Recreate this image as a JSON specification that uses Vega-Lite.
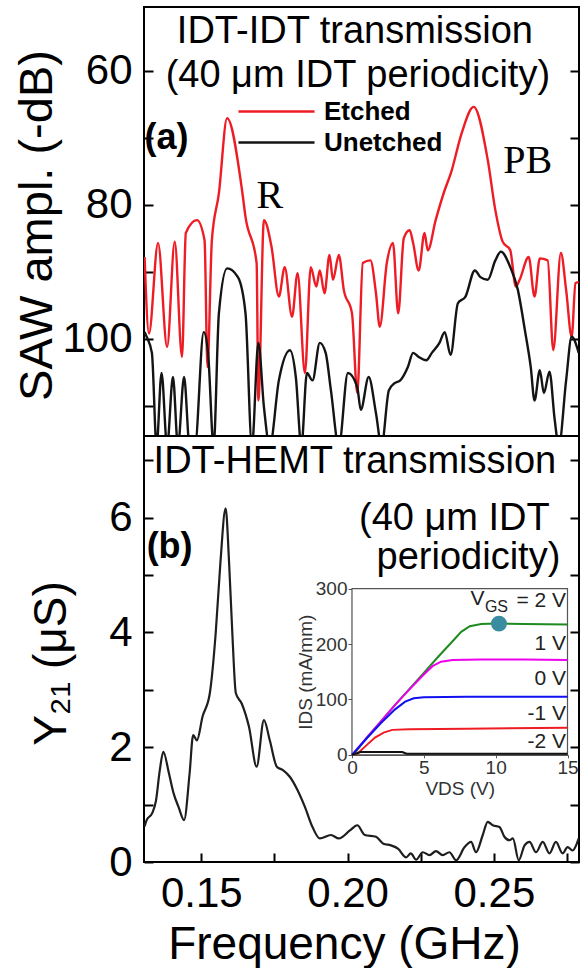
{
  "$schema": "https://vega.github.io/schema/vega-lite/v6.json",
  "background": "white",
  "padding": {"left": 12, "top": 6, "right": 0, "bottom": 0},
  "config": {
    "font": "Liberation Sans",
    "view": {"stroke": "black", "strokeWidth": 2},
    "axis": {"grid": false, "domainColor": "black", "tickColor": "black", "labelColor": "black", "titleColor": "black", "titleFontWeight": "normal", "tickWidth": 2, "labelFont": "Liberation Sans", "titleFont": "Liberation Sans"}
  },
  "datasets": {
    "saw": [
      {"series":"Etched","f":0.1306,"db":87.8},{"series":"Etched","f":0.1321,"db":99.2},{"series":"Etched","f":0.1352,"db":85.7},{"series":"Etched","f":0.1383,"db":101.2},{"series":"Etched","f":0.1409,"db":85.5},{"series":"Etched","f":0.1434,"db":102.7},{"series":"Etched","f":0.1447,"db":84.2},{"series":"Etched","f":0.1485,"db":82.3},{"series":"Etched","f":0.1511,"db":85.3},{"series":"Etched","f":0.1521,"db":104.2},{"series":"Etched","f":0.1536,"db":85.3},{"series":"Etched","f":0.1560,"db":78.3},{"series":"Etched","f":0.1588,"db":67.1},{"series":"Etched","f":0.1639,"db":77.8},{"series":"Etched","f":0.1651,"db":81.8},{"series":"Etched","f":0.1689,"db":88.7},{"series":"Etched","f":0.1695,"db":109.2},{"series":"Etched","f":0.1714,"db":82.3},{"series":"Etched","f":0.1740,"db":86.3},{"series":"Etched","f":0.1765,"db":93.7},{"series":"Etched","f":0.1785,"db":89.3},{"series":"Etched","f":0.1810,"db":96.7},{"series":"Etched","f":0.1829,"db":90.2},{"series":"Etched","f":0.1854,"db":105.1},{"series":"Etched","f":0.1874,"db":89.3},{"series":"Etched","f":0.1893,"db":92.2},{"series":"Etched","f":0.1905,"db":89.8},{"series":"Etched","f":0.1921,"db":93.2},{"series":"Etched","f":0.1938,"db":87.5},{"series":"Etched","f":0.1950,"db":91.2},{"series":"Etched","f":0.1970,"db":87.5},{"series":"Etched","f":0.1987,"db":92.7},{"series":"Etched","f":0.2015,"db":96.2},{"series":"Etched","f":0.2033,"db":108.1},{"series":"Etched","f":0.2052,"db":88.7},{"series":"Etched","f":0.2078,"db":88.3},{"series":"Etched","f":0.2097,"db":93.2},{"series":"Etched","f":0.2110,"db":98.2},{"series":"Etched","f":0.2134,"db":88.7},{"series":"Etched","f":0.2155,"db":85.7},{"series":"Etched","f":0.2173,"db":96.2},{"series":"Etched","f":0.2192,"db":85.0},{"series":"Etched","f":0.2212,"db":83.8},{"series":"Etched","f":0.2224,"db":85.7},{"series":"Etched","f":0.2243,"db":89.8},{"series":"Etched","f":0.2263,"db":84.2},{"series":"Etched","f":0.2274,"db":86.8},{"series":"Etched","f":0.2301,"db":82.3},{"series":"Etched","f":0.2332,"db":77.8},{"series":"Etched","f":0.2353,"db":75.3},{"series":"Etched","f":0.2390,"db":69.3},{"series":"Etched","f":0.2431,"db":65.4},{"series":"Etched","f":0.2479,"db":73.3},{"series":"Etched","f":0.2505,"db":80.8},{"series":"Etched","f":0.2530,"db":85.5},{"series":"Etched","f":0.2556,"db":86.8},{"series":"Etched","f":0.2575,"db":92.2},{"series":"Etched","f":0.2588,"db":91.2},{"series":"Etched","f":0.2619,"db":87.8},{"series":"Etched","f":0.2639,"db":93.7},{"series":"Etched","f":0.2657,"db":88.0},{"series":"Etched","f":0.2684,"db":88.3},{"series":"Etched","f":0.2703,"db":101.7},{"series":"Etched","f":0.2729,"db":87.2},{"series":"Etched","f":0.2747,"db":92.7},{"series":"Etched","f":0.2766,"db":99.7},{"series":"Etched","f":0.2779,"db":91.7},{"series":"Etched","f":0.2790,"db":91.5},
      {"series":"Unetched","f":0.1306,"db":99.0},{"series":"Unetched","f":0.1313,"db":99.7},{"series":"Unetched","f":0.1331,"db":102.1},{"series":"Unetched","f":0.1347,"db":116},{"series":"Unetched","f":0.1364,"db":105.1},{"series":"Unetched","f":0.1383,"db":116},{"series":"Unetched","f":0.1403,"db":105.7},{"series":"Unetched","f":0.1420,"db":116},{"series":"Unetched","f":0.1441,"db":105.7},{"series":"Unetched","f":0.1460,"db":116},{"series":"Unetched","f":0.1478,"db":116},{"series":"Unetched","f":0.1508,"db":99.0},{"series":"Unetched","f":0.1523,"db":102.1},{"series":"Unetched","f":0.1542,"db":116},{"series":"Unetched","f":0.1560,"db":96.2},{"series":"Unetched","f":0.1588,"db":89.5},{"series":"Unetched","f":0.1625,"db":90.8},{"series":"Unetched","f":0.1651,"db":96.2},{"series":"Unetched","f":0.1673,"db":116},{"series":"Unetched","f":0.1695,"db":100.6},{"series":"Unetched","f":0.1714,"db":110.2},{"series":"Unetched","f":0.1734,"db":116},{"series":"Unetched","f":0.1765,"db":106.2},{"series":"Unetched","f":0.1803,"db":101.7},{"series":"Unetched","f":0.1823,"db":105.7},{"series":"Unetched","f":0.1842,"db":116},{"series":"Unetched","f":0.1861,"db":105.1},{"series":"Unetched","f":0.1880,"db":106.2},{"series":"Unetched","f":0.1905,"db":100.6},{"series":"Unetched","f":0.1925,"db":102.1},{"series":"Unetched","f":0.1943,"db":107.7},{"series":"Unetched","f":0.1970,"db":116},{"series":"Unetched","f":0.2001,"db":105.1},{"series":"Unetched","f":0.2033,"db":107.2},{"series":"Unetched","f":0.2045,"db":110.6},{"series":"Unetched","f":0.2072,"db":105.7},{"series":"Unetched","f":0.2097,"db":111.1},{"series":"Unetched","f":0.2116,"db":116},{"series":"Unetched","f":0.2141,"db":107.7},{"series":"Unetched","f":0.2161,"db":106.6},{"series":"Unetched","f":0.2180,"db":106.2},{"series":"Unetched","f":0.2206,"db":104.2},{"series":"Unetched","f":0.2224,"db":102.1},{"series":"Unetched","f":0.2243,"db":102.7},{"series":"Unetched","f":0.2269,"db":103.2},{"series":"Unetched","f":0.2288,"db":102.1},{"series":"Unetched","f":0.2314,"db":100.6},{"series":"Unetched","f":0.2332,"db":99.0},{"series":"Unetched","f":0.2352,"db":102.4},{"series":"Unetched","f":0.2377,"db":94.7},{"series":"Unetched","f":0.2403,"db":93.7},{"series":"Unetched","f":0.2435,"db":89.8},{"series":"Unetched","f":0.2454,"db":90.8},{"series":"Unetched","f":0.2479,"db":91.2},{"series":"Unetched","f":0.2505,"db":88.3},{"series":"Unetched","f":0.2524,"db":87.0},{"series":"Unetched","f":0.2556,"db":89.3},{"series":"Unetched","f":0.2582,"db":92.7},{"series":"Unetched","f":0.2606,"db":98.7},{"series":"Unetched","f":0.2626,"db":104.2},{"series":"Unetched","f":0.2639,"db":109.2},{"series":"Unetched","f":0.2657,"db":104.7},{"series":"Unetched","f":0.2671,"db":108.1},{"series":"Unetched","f":0.2690,"db":104.9},{"series":"Unetched","f":0.2708,"db":112.1},{"series":"Unetched","f":0.2722,"db":116},{"series":"Unetched","f":0.2747,"db":106.2},{"series":"Unetched","f":0.2766,"db":99.7},{"series":"Unetched","f":0.2790,"db":102.1}
    ],
    "y21": [
      {"f":0.1306,"y":0.62},{"f":0.1313,"y":0.73},{"f":0.1332,"y":0.85},{"f":0.1345,"y":1.07},{"f":0.1358,"y":1.6},{"f":0.1370,"y":1.92},{"f":0.1389,"y":1.55},{"f":0.1405,"y":1.2},{"f":0.1422,"y":0.96},{"f":0.1441,"y":0.73},{"f":0.1460,"y":1.55},{"f":0.1472,"y":2.21},{"f":0.1485,"y":2.12},{"f":0.1504,"y":2.53},{"f":0.1529,"y":2.94},{"f":0.1549,"y":3.98},{"f":0.1565,"y":5.2},{"f":0.1583,"y":6.16},{"f":0.1595,"y":5.2},{"f":0.1606,"y":3.98},{"f":0.1618,"y":2.94},{"f":0.1638,"y":2.76},{"f":0.1663,"y":2.35},{"f":0.1689,"y":1.66},{"f":0.1714,"y":2.47},{"f":0.1734,"y":2.12},{"f":0.1758,"y":1.66},{"f":0.1779,"y":1.60},{"f":0.1803,"y":1.48},{"f":0.1829,"y":1.25},{"f":0.1854,"y":0.96},{"f":0.1880,"y":0.61},{"f":0.1905,"y":0.41},{"f":0.1943,"y":0.47},{"f":0.1970,"y":0.41},{"f":0.2008,"y":0.55},{"f":0.2033,"y":0.64},{"f":0.2059,"y":0.47},{"f":0.2097,"y":0.44},{"f":0.2122,"y":0.32},{"f":0.2148,"y":0.29},{"f":0.2173,"y":0.23},{"f":0.2200,"y":0.08},{"f":0.2216,"y":0.15},{"f":0.2234,"y":0.04},{"f":0.2257,"y":0.17},{"f":0.2280,"y":0.12},{"f":0.2302,"y":0.19},{"f":0.2325,"y":0.12},{"f":0.2348,"y":0.17},{"f":0.2371,"y":0.03},{"f":0.2400,"y":0.26},{"f":0.2422,"y":0.35},{"f":0.2439,"y":0.17},{"f":0.2462,"y":0.47},{"f":0.2479,"y":0.70},{"f":0.2496,"y":0.64},{"f":0.2519,"y":0.61},{"f":0.2536,"y":0.44},{"f":0.2553,"y":0.38},{"f":0.2565,"y":0.41},{"f":0.2585,"y":0.03},{"f":0.2605,"y":0.29},{"f":0.2622,"y":0.35},{"f":0.2644,"y":0.17},{"f":0.2667,"y":0.35},{"f":0.2690,"y":0.15},{"f":0.2712,"y":0.35},{"f":0.2735,"y":0.15},{"f":0.2752,"y":0.26},{"f":0.2769,"y":0.20},{"f":0.2790,"y":0.41}
    ],
    "iv": [
      {"vgs":"2 V","vds":0.1,"ids":0},{"vgs":"2 V","vds":1,"ids":30},{"vgs":"2 V","vds":2,"ids":60},{"vgs":"2 V","vds":3,"ids":90},{"vgs":"2 V","vds":4,"ids":119},{"vgs":"2 V","vds":5,"ids":148},{"vgs":"2 V","vds":6,"ids":177},{"vgs":"2 V","vds":7,"ids":205},{"vgs":"2 V","vds":7.6,"ids":222},{"vgs":"2 V","vds":8.2,"ids":232},{"vgs":"2 V","vds":9,"ids":236},{"vgs":"2 V","vds":10,"ids":237},{"vgs":"2 V","vds":12,"ids":236},{"vgs":"2 V","vds":15,"ids":235},
      {"vgs":"1 V","vds":0,"ids":0},{"vgs":"1 V","vds":1,"ids":30},{"vgs":"1 V","vds":2,"ids":60},{"vgs":"1 V","vds":3,"ids":90},{"vgs":"1 V","vds":4,"ids":118},{"vgs":"1 V","vds":5,"ids":145},{"vgs":"1 V","vds":5.6,"ids":160},{"vgs":"1 V","vds":6.2,"ids":168},{"vgs":"1 V","vds":7,"ids":171},{"vgs":"1 V","vds":9,"ids":172},{"vgs":"1 V","vds":12,"ids":172},{"vgs":"1 V","vds":15,"ids":171},
      {"vgs":"0 V","vds":0,"ids":0},{"vgs":"0 V","vds":1,"ids":29},{"vgs":"0 V","vds":2,"ids":57},{"vgs":"0 V","vds":3,"ids":82},{"vgs":"0 V","vds":3.7,"ids":96},{"vgs":"0 V","vds":4.3,"ids":102},{"vgs":"0 V","vds":5,"ids":104},{"vgs":"0 V","vds":8,"ids":105},{"vgs":"0 V","vds":15,"ids":105},
      {"vgs":"-1 V","vds":0.3,"ids":0},{"vgs":"-1 V","vds":1,"ids":17},{"vgs":"-1 V","vds":1.6,"ids":31},{"vgs":"-1 V","vds":2.2,"ids":40},{"vgs":"-1 V","vds":2.8,"ids":45},{"vgs":"-1 V","vds":4,"ids":46},{"vgs":"-1 V","vds":8,"ids":47},{"vgs":"-1 V","vds":15,"ids":49},
      {"vgs":"-2 V","vds":0,"ids":0},{"vgs":"-2 V","vds":0.6,"ids":5},{"vgs":"-2 V","vds":3.5,"ids":5},{"vgs":"-2 V","vds":3.8,"ids":2},{"vgs":"-2 V","vds":15,"ids":2}
    ]
  },
  "bounds": "flush",
  "spacing": 0,
  "resolve": {"scale": {"x": "independent", "y": "independent", "color": "independent"}, "legend": {"color": "independent"}},
  "vconcat": [
    {
      "width": 435,
      "height": 429,
      "layer": [
        {
          "data": {"name": "saw"},
          "mark": {"type": "line", "clip": true, "strokeWidth": 2.4, "interpolate": "monotone"},
          "encoding": {
            "x": {"field": "f", "type": "quantitative", "scale": {"domain": [0.1304, 0.2791], "nice": false, "zero": false},
                  "axis": {"orient": "bottom", "values": [0.15, 0.175, 0.2, 0.225, 0.25, 0.275], "labels": false, "tickSize": -9, "domain": false, "title": null}},
            "y": {"field": "db", "type": "quantitative", "scale": {"domain": [50.5, 114.5], "reverse": true, "nice": false, "zero": false},
                  "axis": {"orient": "left", "values": [60, 70, 80, 90, 100, 110], "labelExpr": "datum.value % 20 == 0 ? datum.label : ''", "tickSize": -9, "labelPadding": 21, "labelFontSize": 42, "domain": false, "title": "SAW ampl. (-dB)", "titleFontSize": 47, "minExtent": 83, "maxExtent": 83, "titlePadding": 0, "titleY": 218}},
            "color": {"field": "series", "type": "nominal", "scale": {"domain": ["Etched", "Unetched"], "range": ["#ee1c24", "#141414"]},
                      "legend": {"orient": "none", "legendX": 115, "legendY": 87, "title": null, "symbolType": "M-2.4,0H2.4", "symbolSize": 1005, "symbolStrokeWidth": 2.5, "labelFontSize": 26, "labelFontWeight": "bold", "labelFont": "Liberation Sans", "labelColor": "black", "labelOffset": 30, "rowPadding": 0, "padding": 0}}
          }
        },
        {
          "data": {"name": "saw"},
          "mark": {"type": "point", "opacity": 0, "clip": true},
          "encoding": {
            "x": {"field": "f", "type": "quantitative", "axis": null},
            "y": {"field": "db", "type": "quantitative", "axis": {"orient": "right", "values": [60, 70, 80, 90, 100, 110], "labels": false, "tickSize": -9, "domain": false, "title": null}}
          }
        },
        {
          "data": {"values": [{"t": "IDT-IDT transmission", "f": 0.2025, "db": 54.3}, {"t": "(40 μm IDT periodicity)", "f": 0.2035, "db": 60.8}]},
          "mark": {"type": "text", "fontSize": 38, "align": "center", "baseline": "middle", "color": "black"},
          "encoding": {"x": {"field": "f", "type": "quantitative", "axis": null}, "y": {"field": "db", "type": "quantitative", "axis": null}, "text": {"field": "t"}}
        },
        {
          "data": {"values": [{"t": "(a)", "f": 0.1306, "db": 70.0}]},
          "mark": {"type": "text", "fontSize": 36, "fontWeight": "bold", "align": "left", "baseline": "middle", "color": "black"},
          "encoding": {"x": {"field": "f", "type": "quantitative", "axis": null}, "y": {"field": "db", "type": "quantitative", "axis": null}, "text": {"field": "t"}}
        },
        {
          "data": {"values": [{"t": "R", "f": 0.1734, "db": 78.7}, {"t": "PB", "f": 0.2616, "db": 73.5}]},
          "mark": {"type": "text", "font": "Liberation Serif", "fontSize": 40, "align": "center", "baseline": "middle", "color": "black"},
          "encoding": {"x": {"field": "f", "type": "quantitative", "axis": null}, "y": {"field": "db", "type": "quantitative", "axis": null}, "text": {"field": "t"}}
        }
      ],
      "resolve": {"axis": {"y": "independent"}}
    },
    {
      "width": 435,
      "height": 426,
      "layer": [
        {
          "data": {"name": "y21"},
          "mark": {"type": "line", "clip": true, "strokeWidth": 2.2, "color": "#1e1e1e", "interpolate": "monotone"},
          "encoding": {
            "x": {"field": "f", "type": "quantitative", "scale": {"domain": [0.1304, 0.2791], "nice": false, "zero": false},
                  "axis": {"orient": "bottom", "values": [0.15, 0.175, 0.2, 0.225, 0.25, 0.275], "labelExpr": "round(datum.value*1000) % 50 == 0 ? format(datum.value, '.2f') : ''", "tickSize": -9, "labelPadding": 20, "labelFontSize": 42, "labelFlush": false, "domain": false, "title": "Frequency (GHz)", "titleFontSize": 46, "minExtent": 60, "maxExtent": 60, "titlePadding": 0, "titleX": 200}},
            "y": {"field": "y", "type": "quantitative", "scale": {"domain": [0, 7.42], "nice": false, "zero": false},
                  "axis": {"orient": "left", "values": [0, 1, 2, 3, 4, 5, 6, 7], "labelExpr": "datum.value % 2 == 0 ? datum.label : ''", "tickSize": -9, "labelPadding": 21, "labelFontSize": 42, "domain": false, "title": "Y₂₁ (μS)", "titleFontSize": 46, "minExtent": 69, "maxExtent": 69, "titlePadding": 0, "titleY": 227}}
          }
        },
        {
          "data": {"name": "y21"},
          "mark": {"type": "point", "opacity": 0, "clip": true},
          "encoding": {
            "x": {"field": "f", "type": "quantitative", "scale": {"domain": [0.1304, 0.2791], "nice": false, "zero": false}, "axis": null},
            "y": {"field": "y", "type": "quantitative", "scale": {"domain": [0, 7.42], "nice": false, "zero": false}, "axis": {"orient": "right", "values": [0, 1, 2, 3, 4, 5, 6, 7], "labels": false, "tickSize": -9, "domain": false, "title": null}}
          }
        },
        {
          "data": {"values": [{"t": "IDT-HEMT transmission", "f": 0.2025, "y": 6.96}, {"t": "(40 μm IDT", "f": 0.2365, "y": 5.98}, {"t": "periodicity)", "f": 0.2413, "y": 5.29}]},
          "mark": {"type": "text", "fontSize": 38, "align": "center", "baseline": "middle", "color": "black"},
          "encoding": {"x": {"field": "f", "type": "quantitative", "scale": {"domain": [0.1304, 0.2791], "nice": false, "zero": false}, "axis": null}, "y": {"field": "y", "type": "quantitative", "scale": {"domain": [0, 7.42], "nice": false, "zero": false}, "axis": null}, "text": {"field": "t"}}
        },
        {
          "data": {"values": [{"t": "(b)", "f": 0.1313, "y": 5.48}]},
          "mark": {"type": "text", "fontSize": 36, "fontWeight": "bold", "align": "left", "baseline": "middle", "color": "black"},
          "encoding": {"x": {"field": "f", "type": "quantitative", "scale": {"domain": [0.1304, 0.2791], "nice": false, "zero": false}, "axis": null}, "y": {"field": "y", "type": "quantitative", "scale": {"domain": [0, 7.42], "nice": false, "zero": false}, "axis": null}, "text": {"field": "t"}}
        },
        {
          "data": {"values": [{"x0": 0, "x1": 15, "y0": 0, "y1": 300}]},
          "mark": {"type": "rect", "fill": "white", "stroke": "#555555", "strokeWidth": 1.2},
          "encoding": {
            "x": {"field": "x0", "type": "quantitative", "scale": {"domain": [0, 15], "range": [208, 423.5], "nice": false, "zero": false},
                  "axis": {"orient": "bottom", "offset": -107.2, "values": [0, 5, 10, 15], "tickSize": 3, "tickWidth": 1, "labelPadding": 1, "labelFontSize": 19, "labelColor": "#333333", "labelFlush": false, "domain": true, "domainColor": "#555555", "domainWidth": 1.2, "tickColor": "#555555", "title": "VDS (V)", "titleFontSize": 19, "titleColor": "#333333", "titlePadding": 2}},
            "x2": {"field": "x1"},
            "y": {"field": "y0", "type": "quantitative", "scale": {"domain": [0, 300], "range": [318.8, 152.6], "nice": false, "zero": false},
                  "axis": {"orient": "left", "offset": -208, "values": [0, 100, 200, 300], "tickSize": 4, "tickWidth": 1, "labelPadding": 1, "labelFontSize": 19, "labelColor": "#333333", "labelFlush": false, "domain": true, "domainColor": "#555555", "domainWidth": 1.2, "tickColor": "#555555", "title": "IDS (mA/mm)", "titleFontSize": 19, "titleColor": "#333333", "titlePadding": 0}},
            "y2": {"field": "y1"}
          }
        },
        {
          "data": {"name": "iv"},
          "mark": {"type": "line", "strokeWidth": 2},
          "encoding": {
            "x": {"field": "vds", "type": "quantitative", "scale": {"domain": [0, 15], "range": [208, 423.5], "nice": false, "zero": false}, "axis": null},
            "y": {"field": "ids", "type": "quantitative", "scale": {"domain": [0, 300], "range": [318.8, 152.6], "nice": false, "zero": false}, "axis": null},
            "color": {"field": "vgs", "type": "nominal", "scale": {"domain": ["2 V", "1 V", "0 V", "-1 V", "-2 V"], "range": ["#1f8a1f", "#ee00ee", "#1010f0", "#ee1c24", "#111111"]}, "legend": null}
          }
        },
        {
          "data": {"values": [{"vds": 10.23, "ids": 236.8}]},
          "mark": {"type": "point", "filled": true, "size": 254, "color": "#3a8ca0", "opacity": 1},
          "encoding": {
            "x": {"field": "vds", "type": "quantitative", "scale": {"domain": [0, 15], "range": [208, 423.5], "nice": false, "zero": false}, "axis": null},
            "y": {"field": "ids", "type": "quantitative", "scale": {"domain": [0, 300], "range": [318.8, 152.6], "nice": false, "zero": false}, "axis": null}
          }
        },
        {
          "data": {"values": [{"t": "= 2 V", "vds": 14.9, "ids": 277}, {"t": "1 V", "vds": 14.9, "ids": 200.7}, {"t": "0 V", "vds": 14.9, "ids": 137.5}, {"t": "-1 V", "vds": 14.9, "ids": 74.4}, {"t": "-2 V", "vds": 14.9, "ids": 23}, {"t": "V", "vds": 9.23, "ids": 280.7}]},
          "mark": {"type": "text", "fontSize": 21, "align": "right", "baseline": "middle", "color": "#222222"},
          "encoding": {
            "x": {"field": "vds", "type": "quantitative", "scale": {"domain": [0, 15], "range": [208, 423.5], "nice": false, "zero": false}, "axis": null},
            "y": {"field": "ids", "type": "quantitative", "scale": {"domain": [0, 300], "range": [318.8, 152.6], "nice": false, "zero": false}, "axis": null},
            "text": {"field": "t"}
          }
        },
        {
          "data": {"values": [{"t": "GS", "vds": 9.25, "ids": 266.8}]},
          "mark": {"type": "text", "fontSize": 16, "align": "left", "baseline": "middle", "color": "#222222"},
          "encoding": {
            "x": {"field": "vds", "type": "quantitative", "scale": {"domain": [0, 15], "range": [208, 423.5], "nice": false, "zero": false}, "axis": null},
            "y": {"field": "ids", "type": "quantitative", "scale": {"domain": [0, 300], "range": [318.8, 152.6], "nice": false, "zero": false}, "axis": null},
            "text": {"field": "t"}
          }
        }
      ],
      "resolve": {"scale": {"x": "independent", "y": "independent", "color": "independent"}, "axis": {"x": "independent", "y": "independent"}}
    }
  ]
}
